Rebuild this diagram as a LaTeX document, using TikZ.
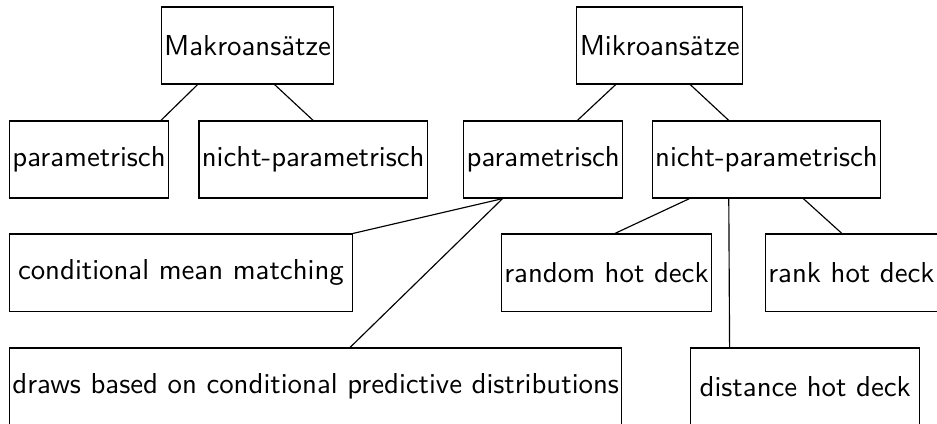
\documentclass[tikz,border=0pt]{standalone}
\usepackage{fontspec}
\usepackage{tikz}

\begin{document}
\begin{tikzpicture}[
          box/.style={draw,anchor=west,font=\sffamily,
                      minimum height=0.94cm,inner xsep=1pt,inner ysep=0pt}]
        \useasboundingbox (0,0) rectangle (11.43,-5.16);
        \node[box](makro) at (1.96,-0.555){Makroansätze};
        \node[box](mikro) at (7.03,-0.555){Mikroansätze};
        \node[box](makropar) at (0.11,-1.946){parametrisch};
        \node[box](makronpar) at (2.42,-1.946){nicht-parametrisch};
        \node[box](mikropar) at (5.65,-1.946){parametrisch};
        \node[box](mikronpar) at (7.95,-1.946){nicht-parametrisch};
        \node[box,minimum width=4.18cm](cmm) at (0.11,-3.325){conditional mean matching};
        \node[box](random) at (6.11,-3.325){random hot deck};
        \node[box](rank) at (9.33,-3.325){rank hot deck};
        \node[box](draws) at (0.11,-4.715){draws based on conditional predictive distributions};
        \node[box,minimum width=2.79cm](distance) at (8.42,-4.715){distance hot deck};
        \draw([xshift=0.45cm]makro.south west)--([xshift=-0.10cm]makropar.north east);
        \draw([xshift=1.39cm]makro.south west)--([xshift=1.40cm]makronpar.north west);
        \draw([xshift=0.48cm]mikro.south west)--([xshift=-0.56cm]mikropar.north east);
        \draw([xshift=1.39cm]mikro.south west)--([xshift=0.94cm]mikronpar.north west);
        \draw([xshift=0.48cm]mikropar.south west)--(cmm.north east);
        \draw([xshift=0.48cm]mikropar.south west)--([xshift=4.16cm]draws.north west);
        \draw([xshift=0.46cm]mikronpar.south west)--([xshift=1.39cm]random.north west);
        \draw([xshift=0.94cm]mikronpar.south west)--([xshift=0.48cm]distance.north west);
        \draw([xshift=1.85cm]mikronpar.south west)--([xshift=0.94cm]rank.north west);
      \end{tikzpicture}
\end{document}
